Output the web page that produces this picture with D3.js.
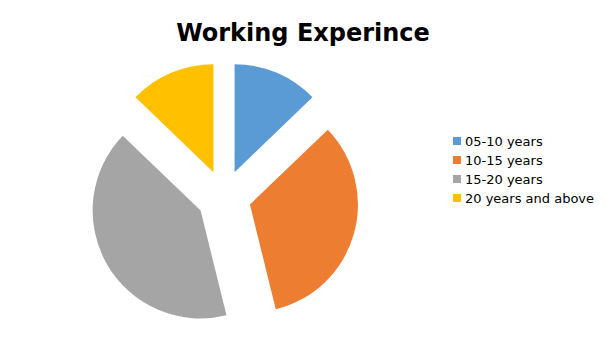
<html>
<head>
<script src="https://d3js.org/d3.v7.min.js"></script>
<style>
  body { margin: 0; background: #fff; }
  text { font-family: "DejaVu Sans", sans-serif; }
</style>
</head>
<body>
<svg id="chart" width="605" height="340"></svg>
<script>
const categories = ["05-10 years", "10-15 years", "15-20 years", "20 years and above"];
const values = [5, 13, 16, 5];
const colors = ["#5B9BD5", "#ED7D31", "#A5A5A5", "#FFC000"];

const svg = d3.select("#chart");
const cx = 224, cy = 197, radius = 108, explode = 27;

svg.append("text")
    .attr("x", 303).attr("y", 41)
    .attr("text-anchor", "middle")
    .attr("font-size", 24).attr("font-weight", "bold")
    .text("Working Experince");

const pie = d3.pie().sort(null)(values);
const arc = d3.arc().innerRadius(0).outerRadius(radius);

// exploded slices, each pushed out along its bisector
const g = svg.append("g").attr("transform", `translate(${cx},${cy})`);
g.selectAll("path").data(pie)
    .join("path")
    .attr("fill", (d, i) => colors[i])
    .attr("d", arc)
    .attr("transform", d => {
        const a = (d.startAngle + d.endAngle) / 2;
        return `translate(${Math.sin(a) * explode},${-Math.cos(a) * explode})`;
    });

const legend = svg.append("g").attr("transform", "translate(453,137)");
const item = legend.selectAll("g").data(categories)
    .join("g")
    .attr("transform", (d, i) => `translate(0,${i * 19})`);
item.append("rect").attr("width", 8).attr("height", 8).attr("fill", (d, i) => colors[i]);
item.append("text").attr("x", 12).attr("y", 9).attr("font-size", 13).attr("fill", "#000").text(d => d);
</script>
</body>
</html>
